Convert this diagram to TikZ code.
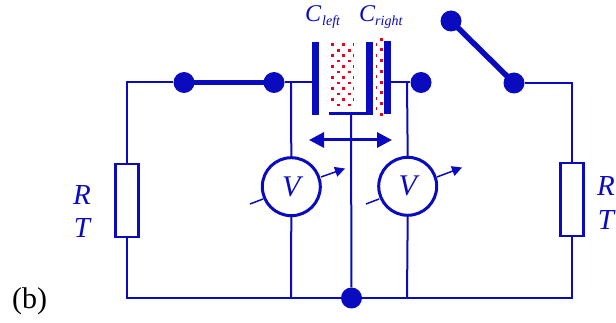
\documentclass[tikz,border=0pt]{standalone}
\usepackage{fontspec}
\setmainfont{Liberation Serif}
\usetikzlibrary{arrows.meta}
\definecolor{cblue}{RGB}{10,10,190}
\definecolor{cred}{RGB}{235,0,30}
\tikzset{
  wire/.style={draw=cblue,line width=2pt},
  thin wire/.style={draw=cblue,line width=1.5pt},
  plate/.style={fill=cblue,draw=none},
  blob/.style={circle,fill=cblue,draw=none,minimum size=21pt,inner sep=0pt},
  lever/.style={draw=cblue,line width=5.5pt},
  resbox/.style={draw=cblue,line width=2.6pt,fill=white,minimum width=23pt,minimum height=73pt,inner sep=0pt},
  meter/.style={circle,draw=cblue,line width=3pt,fill=white,minimum size=58pt,inner sep=0pt,text=cblue,font=\fontsize{30}{30}\selectfont\itshape},
  lab/.style={text=cblue,font=\fontsize{29}{29}\selectfont\itshape,inner sep=0pt},
  clab/.style={text=cblue,font=\fontsize{24}{24}\selectfont\itshape,inner sep=0pt,anchor=base west},
  sublab/.style={text=cblue,font=\fontsize{14}{14}\selectfont\itshape,inner sep=0pt,anchor=base west},
  reddot/.style={fill=cred,draw=none,minimum size=3pt,inner sep=0pt},
  reddotflat/.style={fill=cred,draw=none,minimum width=3.2pt,minimum height=2.2pt,inner sep=0pt},
}
\begin{document}
\begin{tikzpicture}[x=1pt,y=-1pt]
\useasboundingbox (0,0) rectangle (616,323);
% corners and junctions
\coordinate (tl) at (127,82.5);
\coordinate (bl) at (127,298);
\coordinate (tr) at (572,83);
\coordinate (br) at (572,298);
\coordinate (jl) at (291,82.5);
\coordinate (jr) at (407,82.5);
\coordinate (jbl) at (291,298);
\coordinate (jbr) at (407,298);
\node[blob] (s1) at (184,82.5) {};
\node[blob] (s2) at (274,82.5) {};
\node[blob] (s3) at (421,82.5) {};
\node[blob] (s4) at (451,21) {};
\node[blob] (s5) at (514,83) {};
\node[blob] (g) at (351.5,298) {};
\node[resbox] (r1) at (127,200.5) {};
\node[resbox] (r2) at (572,199.5) {};
\node[meter] (v1) at (291.3,186.7) {V};
\node[meter] (v2) at (407.7,186.3) {V};
% plates
\fill[plate] (312,42) rectangle (319,115);
\fill[plate] (366,42) rectangle (373,115.3);
\fill[plate] (329,112.3) rectangle (373,115.3);
\fill[plate] (384,41) rectangle (391,114);
\coordinate (pl) at (312,82.5);
\coordinate (pr) at (391,82.5);
\coordinate (stem) at (351,114);
% wires
\draw[wire] (s1) -- (tl) -- (r1.north);
\draw[wire] (r1.south) -- (bl) -- (br) -- (r2.south);
\draw[wire] (r2.north) -- (tr) -- (s5);
\draw[wire] (s2) -- (pl);
\draw[wire] (pr) -- (s3);
\draw[wire] (jl) -- (v1.north);
\draw[wire] (jr) -- (v2.north);
\draw[wire] (v1.south) -- (jbl);
\draw[wire] (v2.south) -- (jbr);
\draw[wire] (stem) -- (g);
% switches
\draw[lever] (s1.center) -- (s2.center);
\draw[lever] (s4.center) -- (s5.center);
% motion arrow
\coordinate (al) at (309,140);
\coordinate (ar) at (392,140);
\draw[draw=cblue,line width=3pt,{Triangle[length=15pt,width=15pt]}-{Triangle[length=15pt,width=15pt]}] (al) -- (ar);
% meter arrows
\coordinate (a1s) at (250,204);
\coordinate (a1e) at (345,168.5);
\coordinate (a2s) at (366,204);
\coordinate (a2e) at (462,167.5);
\draw[thin wire] (a1s) -- (263,199);
\draw[thin wire,-{Triangle[length=10pt,width=10pt]}] (321,177) -- (a1e);
\draw[thin wire] (a2s) -- (379,199);
\draw[thin wire,-{Triangle[length=10pt,width=10pt]}] (437,177) -- (a2e);
% dielectric dots
\foreach \row in {0,2,4,6,8,10}{
  \foreach \cx in {332.3,343.3}{\node[reddot] at (\cx,{45+\row*5.45}) {};}
  \node[reddot,minimum width=1.3pt] at (353.3,{45+\row*5.45}) {};
}
\foreach \row in {1,3,5,7,9,11}{
  \foreach \cx in {338.3,349.3}{\node[reddotflat] at (\cx,{45+\row*5.45}) {};}
}
\foreach \row in {0,2,4,6,8,10,12,14}{
  \node[reddot] at (381,{39.3+\row*5.35}) {};
}
\foreach \row in {1,3,5,7,9,11,13}{
  \node[reddot,minimum width=1.3pt] at (376.3,{39.3+\row*5.35}) {};
}
% labels
\node[lab] (rl) at (82,195) {R};
\node[lab] (tl2) at (82,228) {T};
\node[lab] (rr) at (606,186) {R};
\node[lab] (tr2) at (606,220) {T};
\node[clab] (c1) at (305,22) {C};
\node[sublab] (c1s) at (322,26) {left};
\node[clab] (c2) at (359,22) {C};
\node[sublab] (c2s) at (375,26) {right};
\node[anchor=base west,inner sep=0pt,font=\fontsize{30}{30}\selectfont] (b) at (12,308) {(b)};
\end{tikzpicture}
\end{document}
